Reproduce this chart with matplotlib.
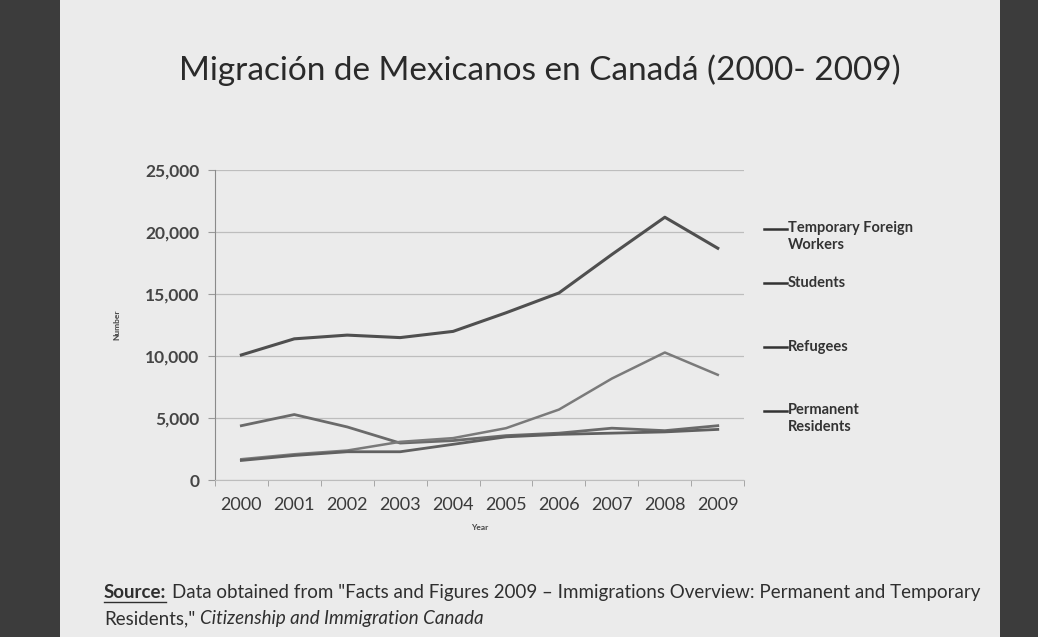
"""Recreate the 'Migración de Mexicanos en Canadá' line chart."""

import matplotlib
matplotlib.use('Agg')
import matplotlib.pyplot as plt
from matplotlib.lines import Line2D
from matplotlib.patches import Rectangle

plt.rcParams['font.family'] = ['Lato', 'DejaVu Sans']

years = ['2000', '2001', '2002', '2003', '2004', '2005', '2006', '2007', '2008', '2009']
temp_workers = [10100, 11400, 11700, 11500, 12000, 13500, 15100, 18200, 21200, 18700]
students = [4400, 5300, 4300, 3000, 3200, 3600, 3800, 4200, 4000, 4400]
refugees = [1700, 2100, 2400, 3100, 3400, 4200, 5700, 8200, 10300, 8500]
permanent = [1600, 2000, 2300, 2300, 2900, 3500, 3700, 3800, 3900, 4100]

labels = ['Temporary Foreign\nWorkers', 'Students', 'Refugees', 'Permanent\nResidents']
series = [temp_workers, students, refugees, permanent]
line_colors = ['#4f4f4f', '#6a6a6a', '#7a7a7a', '#606060']
line_widths = [2.2, 2.0, 1.8, 2.0]

fig = plt.figure(figsize=(10.38, 6.37), dpi=100)
fig.patch.set_facecolor('#3c3c3c')

# slide background
fig.add_artist(Rectangle((0.058, 0.0), 0.905, 1.0, transform=fig.transFigure,
                         facecolor='#ebebeb', edgecolor='none', zorder=0))

ax = fig.add_axes([0.207, 0.246, 0.51, 0.487])
ax.set_facecolor('#ebebeb')

x = list(range(len(years)))
for vals, col, lw in zip(series, line_colors, line_widths):
    ax.plot(x, vals, color=col, linewidth=lw, solid_joinstyle='round')

ax.set_xlim(-0.5, len(years) - 0.5)
ax.set_ylim(0, 25000)
ax.set_yticks(range(0, 25001, 5000))
ax.set_yticklabels([f'{v:,}' for v in range(0, 25001, 5000)],
                   fontsize=12.5, fontweight='bold', color='#454545')
ax.set_xticks(x)
ax.set_xticklabels(years, fontsize=13, color='#3a3a3a')
ax.set_xticks([i - 0.5 for i in range(len(years) + 1)], minor=True)
ax.tick_params(axis='x', which='major', length=0, pad=12)
ax.tick_params(axis='x', which='minor', length=4, color='#9a9a9a')
ax.tick_params(axis='y', length=5, color='#9a9a9a', pad=6)

ax.grid(axis='y', color='#bdbdbd', linewidth=0.9)
ax.set_axisbelow(True)
for side in ['top', 'right']:
    ax.spines[side].set_visible(False)
ax.spines['left'].set_color('#8a8a8a')
ax.spines['bottom'].set_color('#bdbdbd')

ax.set_ylabel('Number', fontsize=6, fontweight='bold', color='#444', labelpad=18)
ax.set_xlabel('Year', fontsize=6, fontweight='bold', color='#444', labelpad=8)

# legend on the right, spaced like the original slide
legend_y = [0.64, 0.555, 0.455, 0.355]
for lab, ly in zip(labels, legend_y):
    two_lines = '\n' in lab
    fig.add_artist(Line2D([0.736, 0.758], [ly, ly], transform=fig.transFigure,
                          color='#333333', linewidth=1.8))
    fig.text(0.759, ly + (0.013 if two_lines else 0), lab, fontsize=10.5,
             fontweight='bold', color='#333333',
             va='top' if two_lines else 'center', linespacing=1.3)

fig.suptitle('Migración de Mexicanos en Canadá (2000- 2009)', x=0.52, y=0.915,
             fontsize=24, color='#2a2a2a')

# source note
src = fig.text(0.1, 0.062, 'Source:', fontsize=13.5, fontweight='bold', color='#2f2f2f')
fig.canvas.draw()
bb = src.get_window_extent().transformed(fig.transFigure.inverted())
fig.add_artist(Line2D([bb.x0, bb.x1], [bb.y0 - 0.002, bb.y0 - 0.002],
                      transform=fig.transFigure, color='#2f2f2f', linewidth=1))
fig.text(bb.x1 + 0.006, 0.062,
         'Data obtained from "Facts and Figures 2009 \u2013 Immigrations Overview: '
         'Permanent and Temporary', fontsize=13.5, color='#2f2f2f')
res = fig.text(0.1, 0.02, 'Residents,"', fontsize=13.5, color='#2f2f2f')
fig.canvas.draw()
rb = res.get_window_extent().transformed(fig.transFigure.inverted())
fig.text(rb.x1 + 0.005, 0.02, 'Citizenship and Immigration Canada', fontsize=13.5,
         style='italic', color='#2f2f2f')

fig.savefig('out.png', dpi=100, facecolor=fig.get_facecolor())
